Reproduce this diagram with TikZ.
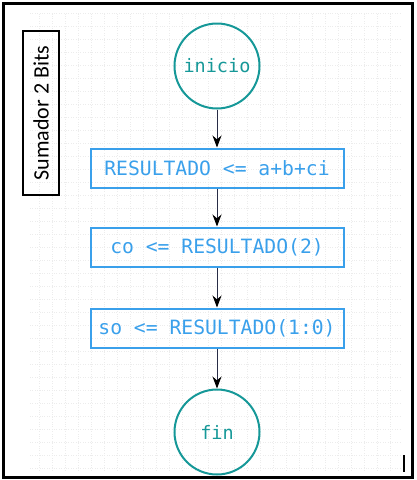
\documentclass[tikz,border=0pt]{standalone}
\usepackage{fontspec}
\setmonofont{DejaVu Sans Mono}
\newfontfamily\titlefont{Carlito}
\usetikzlibrary{positioning, arrows.meta}
\definecolor{circcol}{RGB}{22,152,152}
\definecolor{boxcol}{RGB}{58,160,235}
\definecolor{linecol}{RGB}{40,44,70}

\begin{document}
\begin{tikzpicture}[x=1pt, y=-1pt, node distance=38pt,
    terminal/.style={draw=circcol, line width=2pt, shape=circle, minimum size=85pt, inner sep=0pt, text=circcol, font=\ttfamily\fontsize{18.5}{20}\selectfont},
    process/.style={draw=boxcol, line width=2pt, shape=rectangle, minimum width=253pt, minimum height=39pt, inner sep=0pt, text=boxcol, font=\ttfamily\fontsize{19.7}{21}\selectfont},
    flow/.style={-{Stealth[length=12pt, width=9pt, black]}, draw=linecol, line width=1pt}]

    % page frame
    \useasboundingbox (0,0) rectangle (416,480);
    \draw[gray!15, dotted] (30,12) grid[step=13pt] (400,470);
    \draw[line width=2.2pt] (3.5,3.5) rectangle (412.5,477.5);
    \draw[line width=1.2pt] (404,455) -- (404,472);

    % title
    \node[draw, line width=1.8pt, minimum width=36pt, minimum height=164pt, inner sep=0pt] (title) at (41,113) {};
    \node[rotate=90, font=\titlefont\fontsize{22}{24}\selectfont] (titletext) at (title.center) {Sumador 2 Bits};

    % Define the steps (nodes)
    \node[terminal] (start) at (217,66) {inicio};
    \node[process, below=of start] (sum) {RESULTADO <= a+b+ci};
    \node[process, below=of sum] (carry) {co <= RESULTADO(2)};
    \node[process, below=40pt of carry] (bits) {so <= RESULTADO(1:0)};
    \node[terminal, below=40pt of bits] (stop) {fin};

    % Define the connectors
    \path[flow]
    (start) edge (sum)
    (sum) edge (carry)
    (carry) edge (bits)
    (bits) edge (stop);
\end{tikzpicture}
\end{document}
